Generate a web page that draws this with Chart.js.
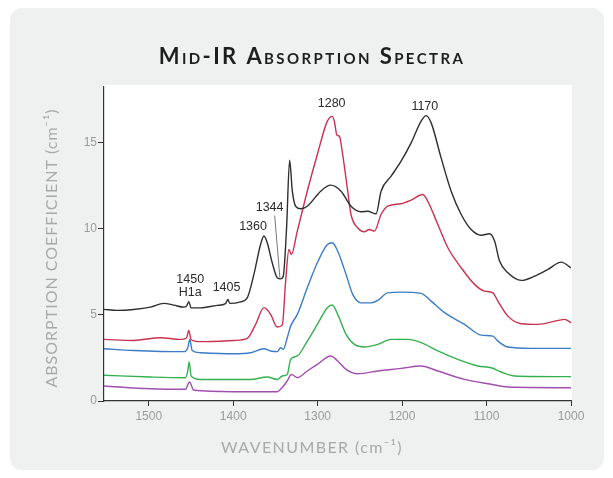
<!DOCTYPE html>
<html>
<head>
<meta charset="utf-8">
<script src="https://cdn.jsdelivr.net/npm/chart.js@4.4.1/dist/chart.umd.min.js"></script>
<style>
  body { margin: 0; background: #fff; }
  .card { position: absolute; left: 10px; top: 8px; width: 594px; height: 462px; border-radius: 12px; background: #eff0f0; }
  #spectra { position: absolute; left: 0; top: 0; }
</style>
</head>
<body>
<div class="card"></div>
<canvas id="spectra" width="613" height="478"></canvas>
<script>
// ===== DATA =====
const xTicks = [1500, 1400, 1300, 1200, 1100, 1000];
const yTicks = [0, 5, 10, 15];

const blackWn  = [1553, 1537.5, 1517.8, 1498, 1482.2, 1470.4, 1458.5, 1455.3, 1452.6, 1449.8, 1438.7, 1419, 1409.1, 1406.3, 1404, 1391.3, 1383.4, 1375.5, 1367.6, 1363.6, 1359.7, 1353.8, 1347.8, 1343.9, 1340.7, 1336.8, 1333.2, 1330, 1326.1, 1320.2, 1312.3, 1296.4, 1284.6, 1272.3, 1260.5, 1248.6, 1240.7, 1230.8, 1224.9, 1213, 1201.2, 1189.3, 1177.5, 1171.5, 1165.6, 1153.8, 1141.9, 1130, 1118.2, 1106.3, 1096.4, 1090.5, 1084.6, 1074.7, 1058.9, 1043.1, 1027.3, 1011.5, 1000];
const blackAbs = [5.31, 5.25, 5.3, 5.44, 5.66, 5.56, 5.44, 5.5, 5.75, 5.4, 5.4, 5.54, 5.64, 5.89, 5.66, 5.75, 5.98, 7.34, 9.07, 9.56, 9.17, 8.01, 7.14, 7.08, 7.24, 10.04, 13.96, 12.16, 11.29, 11.14, 11.29, 12.16, 12.51, 12.16, 11.29, 10.97, 11.0, 10.85, 12.16, 13.03, 13.9, 14.96, 16.22, 16.54, 16.12, 14.09, 12.16, 10.81, 9.94, 9.61, 9.69, 9.27, 8.11, 7.43, 6.99, 7.24, 7.63, 8.05, 7.72];

const redWn  = [1553, 1517.8, 1486.2, 1462.5, 1455.3, 1452.6, 1449.8, 1438.7, 1399.2, 1383.4, 1373.5, 1363.6, 1355.7, 1347.8, 1341.9, 1337.9, 1334, 1331.2, 1324.1, 1312.3, 1300.4, 1288.5, 1282.6, 1280.2, 1277.1, 1274.3, 1270.4, 1264.4, 1260.5, 1252.6, 1244.7, 1238.7, 1232.8, 1224.9, 1217, 1201.2, 1189.3, 1175.5, 1169.6, 1157.7, 1145.8, 1130, 1114.2, 1102.4, 1092.5, 1086.6, 1074.7, 1058.9, 1039.1, 1015.4, 1007.5, 1000];
const redAbs = [3.57, 3.51, 3.67, 3.57, 3.65, 4.09, 3.55, 3.44, 3.51, 3.63, 4.44, 5.41, 5.02, 4.29, 4.4, 6.95, 8.78, 8.49, 9.85, 12.16, 14.29, 16.22, 16.5, 16.2, 15.4, 15.35, 14.29, 12.16, 10.81, 10.04, 9.81, 9.94, 9.85, 10.81, 11.29, 11.43, 11.64, 11.97, 11.58, 10.23, 8.88, 7.72, 6.76, 6.37, 6.27, 5.79, 4.92, 4.48, 4.44, 4.67, 4.73, 4.54];

const blueWn  = [1553, 1517.8, 1458.5, 1453.8, 1451.4, 1448.6, 1438.7, 1399.2, 1379.4, 1363.6, 1355.7, 1347.8, 1343.9, 1340.7, 1336, 1332, 1324.1, 1312.3, 1300.4, 1288.5, 1282.6, 1276.3, 1266.4, 1258.5, 1248.6, 1236.8, 1228.9, 1217, 1201.2, 1177.5, 1165.6, 1149.8, 1126.1, 1106.3, 1092.5, 1086.6, 1074.7, 1047, 1000];
const blueAbs = [3.03, 2.93, 2.86, 3.09, 3.57, 2.93, 2.8, 2.74, 2.8, 3.03, 2.9, 2.86, 3.09, 2.99, 3.67, 4.34, 5.02, 6.56, 8.01, 9.07, 9.17, 8.69, 7.34, 6.18, 5.69, 5.69, 5.83, 6.27, 6.31, 6.24, 5.79, 5.12, 4.44, 3.82, 3.76, 3.47, 3.13, 3.05, 3.05];

const greenWn  = [1553, 1498, 1456.5, 1453.8, 1452.2, 1449.8, 1438.7, 1379.4, 1359.7, 1347.8, 1341.9, 1336, 1332, 1324.1, 1312.3, 1300.4, 1288.5, 1282.6, 1276.3, 1266.4, 1256.5, 1244.7, 1228.9, 1213, 1193.3, 1177.5, 1157.7, 1134, 1110.3, 1094.5, 1082.6, 1066.8, 1000];
const greenAbs = [1.49, 1.39, 1.35, 1.74, 2.26, 1.45, 1.25, 1.25, 1.39, 1.25, 1.45, 1.54, 2.41, 2.61, 3.47, 4.44, 5.41, 5.56, 5.02, 3.86, 3.28, 3.13, 3.28, 3.57, 3.57, 3.38, 2.9, 2.41, 2.03, 1.93, 1.68, 1.45, 1.41];

const purpleWn  = [1553, 1498, 1456.5, 1451.8, 1446.6, 1399.2, 1347.8, 1343.9, 1336, 1331.2, 1324.1, 1312.3, 1300.4, 1284.6, 1276.3, 1266.4, 1252.6, 1228.9, 1201.2, 1177.5, 1157.7, 1126.1, 1094.5, 1074.7, 1000];
const purpleAbs = [0.87, 0.71, 0.68, 1.1, 0.62, 0.54, 0.54, 0.68, 1.16, 1.54, 1.35, 1.74, 2.12, 2.61, 2.32, 1.83, 1.58, 1.74, 1.89, 2.03, 1.74, 1.25, 0.97, 0.81, 0.77];

// peak labels, in data coordinates (wavenumber, absorption)
const peakLabels = ['1280', '1170', '1360', '1344', '1450', 'H1a', '1405'];
const peakWn     = [1283.4, 1173.1, 1376.5, 1356.9, 1450.9, 1450.9, 1407.9];
const peakAbs    = [17.22, 17.08, 10.13, 11.23, 7.03, 6.31, 6.57];
// leader line from the 1344 label down to the dip
const leaderWn  = [1350.9, 1344.7];
const leaderAbs = [10.75, 7.15];

function toPoints(xs, ys) {
    return xs.map((x, i) => ({ x: x, y: ys[i] }));
}

function series(xs, ys, color) {
    return {
        data: toPoints(xs, ys),
        borderColor: color,
        borderWidth: 1.4,
        pointRadius: 0,
        fill: false,
        cubicInterpolationMode: 'monotone'
    };
}

function spaced(ctx, px) {
    if ('letterSpacing' in ctx) ctx.letterSpacing = px + 'px';
}

// ===== PLUGIN: white plot area, titles, peak labels =====
const decorations = {
    id: 'decorations',
    beforeDraw(chart) {
        const { ctx, chartArea: a } = chart;
        ctx.save();
        ctx.fillStyle = '#ffffff';
        ctx.fillRect(a.left, a.top - 2, a.right - a.left + 1, a.bottom - a.top + 2);
        ctx.restore();
    },
    afterDraw(chart) {
        const { ctx, chartArea: a } = chart;
        const xs = chart.scales.x, ys = chart.scales.y;
        ctx.save();
        ctx.textAlign = 'center';
        ctx.textBaseline = 'middle';

        // title in small caps
        ctx.font = 'bold 22px Lato, "Open Sans", sans-serif';
        if ('fontVariantCaps' in ctx) ctx.fontVariantCaps = 'small-caps';
        spaced(ctx, 2.4);
        ctx.fillStyle = '#1e1e1e';
        ctx.fillText('Mid-IR Absorption Spectra', 312, 57);
        if ('fontVariantCaps' in ctx) ctx.fontVariantCaps = 'normal';

        // axis titles
        ctx.font = '16px Lato, "Open Sans", sans-serif';
        spaced(ctx, 1.4);
        ctx.fillStyle = '#a9a9a9';
        ctx.fillText('WAVENUMBER (cm\u207B\u00B9)', 312, 448);

        spaced(ctx, 1.0);
        ctx.save();
        ctx.translate(52, (a.top + a.bottom) / 2 + 4);
        ctx.rotate(-Math.PI / 2);
        ctx.fillText('ABSORPTION COEFFICIENT (cm\u207B\u00B9)', 0, 0);
        ctx.restore();

        // peak labels
        spaced(ctx, 0);
        ctx.font = '12.5px "Liberation Sans", Arial, sans-serif';
        ctx.fillStyle = '#2a2a2a';
        peakLabels.forEach((t, i) => {
            ctx.fillText(t, xs.getPixelForValue(peakWn[i]), ys.getPixelForValue(peakAbs[i]));
        });

        ctx.strokeStyle = '#555';
        ctx.lineWidth = 0.8;
        ctx.beginPath();
        ctx.moveTo(xs.getPixelForValue(leaderWn[0]), ys.getPixelForValue(leaderAbs[0]));
        ctx.lineTo(xs.getPixelForValue(leaderWn[1]), ys.getPixelForValue(leaderAbs[1]));
        ctx.stroke();
        ctx.restore();
    }
};

const tickFont = { family: '"Liberation Sans", Arial, sans-serif', size: 12 };

new Chart(document.getElementById('spectra'), {
    type: 'line',
    data: {
        datasets: [
            series(blackWn, blackAbs, '#2e2e2e'),
            series(redWn, redAbs, '#c9324e'),
            series(blueWn, blueAbs, '#3a7cc6'),
            series(greenWn, greenAbs, '#35b04f'),
            series(purpleWn, purpleAbs, '#a04fae')
        ]
    },
    options: {
        responsive: false,
        animation: false,
        devicePixelRatio: 1,
        layout: { padding: { top: 87, right: 42, left: 0, bottom: 0 } },
        plugins: {
            legend: { display: false },
            tooltip: { enabled: false }
        },
        scales: {
            x: {
                type: 'linear',
                reverse: true,
                min: 1000,
                max: 1553,
                afterBuildTicks: s => { s.ticks = xTicks.map(v => ({ value: v })); },
                afterFit: s => { s.height = 77; },
                border: { display: true, color: '#333', width: 1.2 },
                grid: { display: true, drawOnChartArea: false, drawTicks: true, tickLength: 5, color: '#333' },
                ticks: { color: '#9a9a9a', font: tickFont, padding: 3, maxRotation: 0, callback: v => String(v) }
            },
            y: {
                min: 0,
                max: 18.2,
                afterBuildTicks: s => { s.ticks = yTicks.map(v => ({ value: v })); },
                afterFit: s => { s.width = 104; },
                border: { display: true, color: '#333', width: 1.2 },
                grid: { display: true, drawOnChartArea: false, drawTicks: true, tickLength: 6, color: '#333' },
                ticks: { color: '#9a9a9a', font: tickFont, padding: 1, callback: v => String(v) }
            }
        }
    },
    plugins: [decorations]
});
</script>
</body>
</html>
